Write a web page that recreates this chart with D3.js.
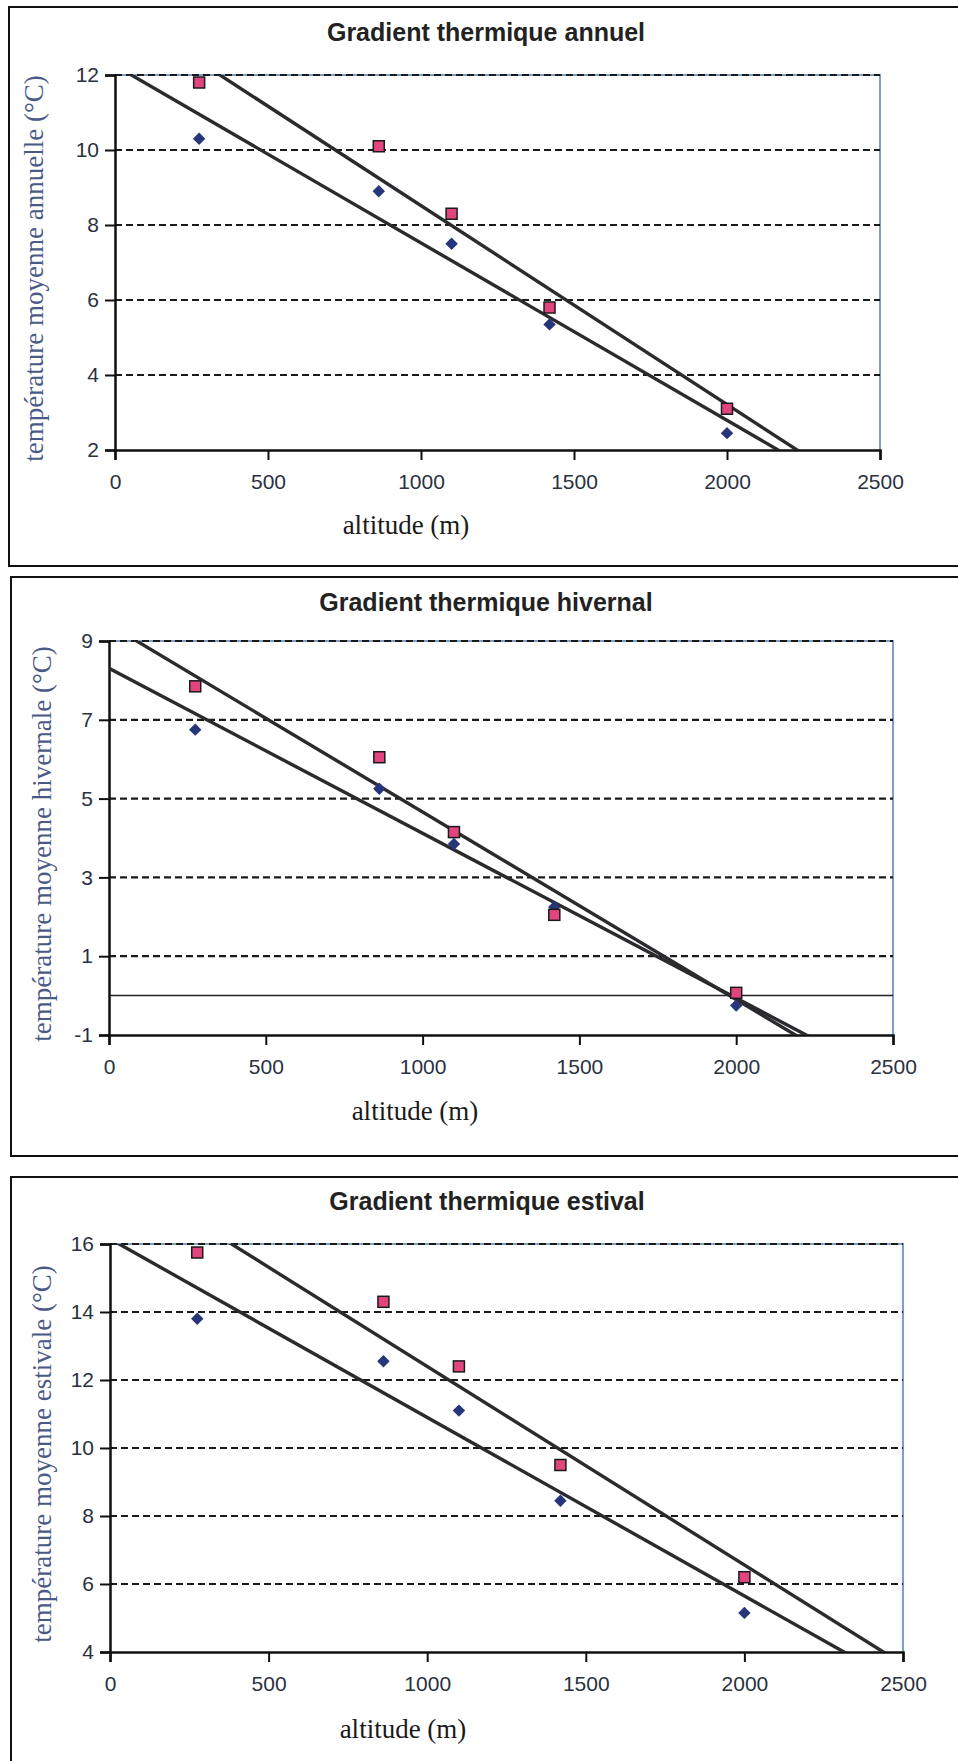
<!DOCTYPE html>
<html>
<head>
<meta charset="utf-8">
<script src="https://cdn.jsdelivr.net/npm/d3@7"></script>
<style>
  body { margin: 0; background: #fff; }
  svg { display: block; }
</style>
</head>
<body>
<svg></svg>
<script>
// altitudes des stations (m)
const altitudes = [275, 862, 1100, 1420, 2000];

// carrés roses / losanges bleus
const annuelCarres = [11.8, 10.1, 8.3, 5.8, 3.1];
const annuelLosanges = [10.3, 8.9, 7.5, 5.35, 2.45];
const hivernalCarres = [7.85, 6.05, 4.15, 2.05, 0.07];
const hivernalLosanges = [6.75, 5.25, 3.85, 2.25, -0.25];
const estivalCarres = [15.75, 14.3, 12.4, 9.5, 6.2];
const estivalLosanges = [13.8, 12.55, 11.1, 8.45, 5.15];

const xTicks = [0, 500, 1000, 1500, 2000, 2500];
const annuelTicks = [2, 4, 6, 8, 10, 12];
const hivernalTicks = [-1, 1, 3, 5, 7, 9];
const estivalTicks = [4, 6, 8, 10, 12, 14, 16];

const width = 958;
const height = 1761;

const svg = d3.select('svg')
  .attr('width', width)
  .attr('height', height);

const charts = [
  {
    title: 'Gradient thermique annuel',
    yLabel: 'température moyenne annuelle (°C)',
    carres: annuelCarres, losanges: annuelLosanges, yTicks: annuelTicks,
    frame: { x: 9, y: 7, bottom: 566 },
    plot: { left: 115, top: 75, right: 880, bottom: 450 },
    titleX: 486, titleY: 41, xLabelX: 406, xLabelY: 534, yLabelX: 43,
    zeroLine: false
  },
  {
    title: 'Gradient thermique hivernal',
    yLabel: 'température moyenne hivernale (°C)',
    carres: hivernalCarres, losanges: hivernalLosanges, yTicks: hivernalTicks,
    frame: { x: 11, y: 577, bottom: 1156 },
    plot: { left: 109, top: 641, right: 893, bottom: 1035 },
    titleX: 486, titleY: 611, xLabelX: 415, xLabelY: 1120, yLabelX: 51,
    zeroLine: true
  },
  {
    title: 'Gradient thermique estival',
    yLabel: 'température moyenne estivale (°C)',
    carres: estivalCarres, losanges: estivalLosanges, yTicks: estivalTicks,
    frame: { x: 11, y: 1177, bottom: 1800 },
    plot: { left: 110, top: 1244, right: 903, bottom: 1652 },
    titleX: 487, titleY: 1210, xLabelX: 403, xLabelY: 1738, yLabelX: 51,
    zeroLine: false
  }
];

// droite des moindres carrés, comme la courbe de tendance du tableur
const regression = (xs, ys) => {
  const mx = d3.mean(xs);
  const my = d3.mean(ys);
  let sxy = 0, sxx = 0;
  xs.forEach((x, i) => {
    sxy += (x - mx) * (ys[i] - my);
    sxx += (x - mx) * (x - mx);
  });
  const slope = sxy / sxx;
  return x => my + slope * (x - mx);
};

const drawChart = (c, index) => {
  const g = svg.append('g');
  const p = c.plot;

  g.append('rect')
    .attr('x', c.frame.x)
    .attr('y', c.frame.y)
    .attr('width', width + 20 - c.frame.x)
    .attr('height', c.frame.bottom - c.frame.y)
    .attr('fill', 'none')
    .attr('stroke', '#111')
    .attr('stroke-width', 2);

  const x = d3.scaleLinear().domain([0, 2500]).range([p.left, p.right]);
  const y = d3.scaleLinear()
    .domain([d3.min(c.yTicks), d3.max(c.yTicks)])
    .range([p.bottom, p.top]);

  // bord du graphique (haut et droite bleutés)
  g.append('path')
    .attr('d', `M${p.left},${p.top}H${p.right}V${p.bottom}`)
    .attr('fill', 'none')
    .attr('stroke', '#7f9fc6')
    .attr('stroke-width', 2);

  // quadrillage tireté
  g.append('g')
    .selectAll('line')
    .data(c.yTicks.filter(t => t !== d3.min(c.yTicks)))
    .join('line')
    .attr('x1', p.left)
    .attr('x2', p.right)
    .attr('y1', d => y(d))
    .attr('y2', d => y(d))
    .attr('stroke', '#1a1a1a')
    .attr('stroke-width', 2.2)
    .attr('stroke-dasharray', '7,4');

  if (c.zeroLine) {
    g.append('line')
      .attr('x1', p.left)
      .attr('x2', p.right)
      .attr('y1', y(0))
      .attr('y2', y(0))
      .attr('stroke', '#222')
      .attr('stroke-width', 1.5);
  }

  // axes
  const xAxis = g.append('g')
    .attr('transform', `translate(0, ${p.bottom})`)
    .call(d3.axisBottom(x).tickValues(xTicks).tickSize(10).tickPadding(14).tickFormat(d => String(d)));
  const yAxis = g.append('g')
    .attr('transform', `translate(${p.left}, 0)`)
    .call(d3.axisLeft(y).tickValues(c.yTicks).tickSize(10).tickPadding(6).tickFormat(d => String(d)));

  [xAxis, yAxis].forEach(a => {
    a.select('.domain').attr('stroke', '#111').attr('stroke-width', 2.5);
    a.selectAll('.tick line').attr('stroke', '#111').attr('stroke-width', 2);
    a.selectAll('.tick text')
      .attr('fill', '#2a3140')
      .style('font-family', '"Liberation Sans", Arial, sans-serif')
      .style('font-size', '21px');
  });

  // courbes de tendance
  const clipId = `clip-${index}`;
  g.append('clipPath')
    .attr('id', clipId)
    .append('rect')
    .attr('x', p.left)
    .attr('y', p.top)
    .attr('width', p.right - p.left)
    .attr('height', p.bottom - p.top);

  const line = d3.line().x(d => x(d[0])).y(d => y(d[1]));
  [c.losanges, c.carres].forEach(values => {
    const f = regression(altitudes, values);
    g.append('path')
      .attr('clip-path', `url(#${clipId})`)
      .attr('d', line(x.domain().map(a => [a, f(a)])))
      .attr('fill', 'none')
      .attr('stroke', '#2b2b2e')
      .attr('stroke-width', 3.4);
  });

  // points
  g.append('g')
    .selectAll('path')
    .data(altitudes.map((a, i) => [a, c.losanges[i]]))
    .join('path')
    .attr('transform', d => `translate(${x(d[0])}, ${y(d[1])}) rotate(45)`)
    .attr('d', 'M-4.4,-4.4H4.4V4.4H-4.4Z')
    .attr('fill', '#27357a');

  g.append('g')
    .selectAll('rect')
    .data(altitudes.map((a, i) => [a, c.carres[i]]))
    .join('rect')
    .attr('x', d => x(d[0]) - 5.5)
    .attr('y', d => y(d[1]) - 5.5)
    .attr('width', 11)
    .attr('height', 11)
    .attr('fill', '#e2457e')
    .attr('stroke', '#1a1a1a')
    .attr('stroke-width', 1.5);

  // textes
  g.append('text')
    .attr('x', c.titleX)
    .attr('y', c.titleY)
    .attr('text-anchor', 'middle')
    .style('font-family', '"Liberation Sans", Arial, sans-serif')
    .style('font-weight', 'bold')
    .style('font-size', '25px')
    .attr('fill', '#222')
    .text(c.title);

  g.append('text')
    .attr('x', c.xLabelX)
    .attr('y', c.xLabelY)
    .attr('text-anchor', 'middle')
    .style('font-family', '"Liberation Serif", "Times New Roman", serif')
    .style('font-size', '27px')
    .attr('fill', '#1a1a1a')
    .text('altitude (m)');

  g.append('text')
    .attr('transform', `translate(${c.yLabelX}, ${(p.top + p.bottom) / 2 + 6}) rotate(-90)`)
    .attr('text-anchor', 'middle')
    .style('font-family', '"Liberation Serif", "Times New Roman", serif')
    .style('font-size', '27px')
    .attr('fill', '#4a5a86')
    .text(c.yLabel);
};

charts.forEach(drawChart);
</script>
</body>
</html>
